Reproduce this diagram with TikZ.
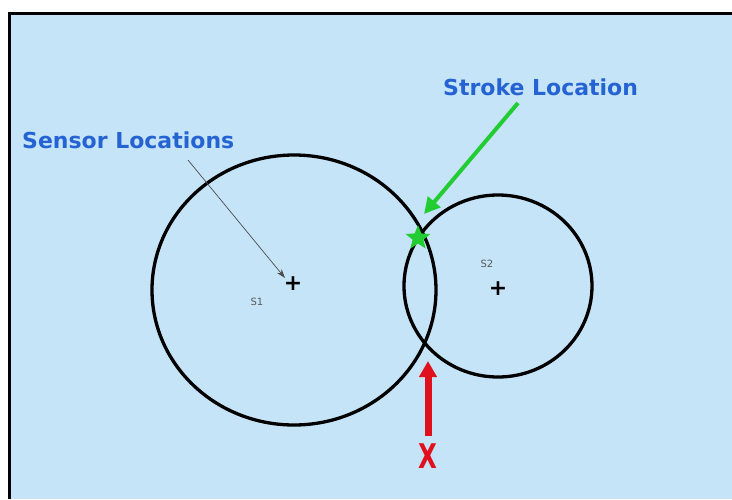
\documentclass[tikz,border=0pt]{standalone}
\usepackage{fontspec}
\setmainfont{DejaVu Sans}
\usetikzlibrary{shapes.geometric,arrows.meta}
\definecolor{bg}{HTML}{C5E4F8}
\definecolor{lbl}{HTML}{2563D2}
\definecolor{grn}{HTML}{22CC33}
\definecolor{rd}{HTML}{E0101C}
\begin{document}
\begin{tikzpicture}[x=1pt,y=-1pt,
  lab/.style={font=\bfseries\fontsize{22}{22}\selectfont, text=lbl, inner sep=0pt},
  small/.style={font=\fontsize{10}{10}\selectfont, text=black!65, inner sep=0pt},
  ring/.style={draw=black, line width=3.3pt},
  cross/.style={font=\bfseries\fontsize{22}{22}\selectfont, inner sep=0pt}]
\useasboundingbox (0,0) rectangle (732,499);
\fill[white] (0,0) rectangle (732,499);
\fill[bg] (9,13) rectangle (732,499);
\draw[line width=3pt] (9.5,499) -- (9.5,13.5) -- (732,13.5);
% circles
\draw[ring] (294,290) ellipse [x radius=142, y radius=135];
\draw[ring] (498,286) ellipse [x radius=94, y radius=91];
% sensor marks
\node[cross] (s1p) at (293,284) {+};
\node[cross] (s2p) at (498,289) {+};
\node[small] (s1) at (257,302) {S1};
\node[small] (s2) at (487,264) {S2};
% labels
\node[lab, anchor=west] (sens) at (22,140) {Sensor Locations};
\node[lab, anchor=west] (strk) at (443,87) {Stroke Location};
% star
\node[star, star points=5, star point ratio=2.3, fill=grn, minimum size=26pt, inner sep=0pt] (st) at (418,238) {};
% arrows
\coordinate (sa) at (188,160);
\coordinate (sb) at (285,278);
\draw[black!70, line width=0.7pt, -{Stealth[length=9pt,width=6pt]}] (sa) -- (sb);
\coordinate (ga) at (518,103);
\coordinate (gb) at (424,214);
\draw[grn, line width=4pt, -{Triangle[length=16pt,width=16pt]}] (ga) -- (gb);
\node[font=\bfseries\fontsize{34}{34}\selectfont, text=rd, inner sep=0pt, xscale=0.72] (x) at (428,456) {X};
\coordinate (bot) at (428,361);
\coordinate (top) at (428,436);
\draw[rd, line width=7pt, -{Triangle[length=16pt,width=17pt]}] (top) -- (bot);
\end{tikzpicture}
\end{document}
